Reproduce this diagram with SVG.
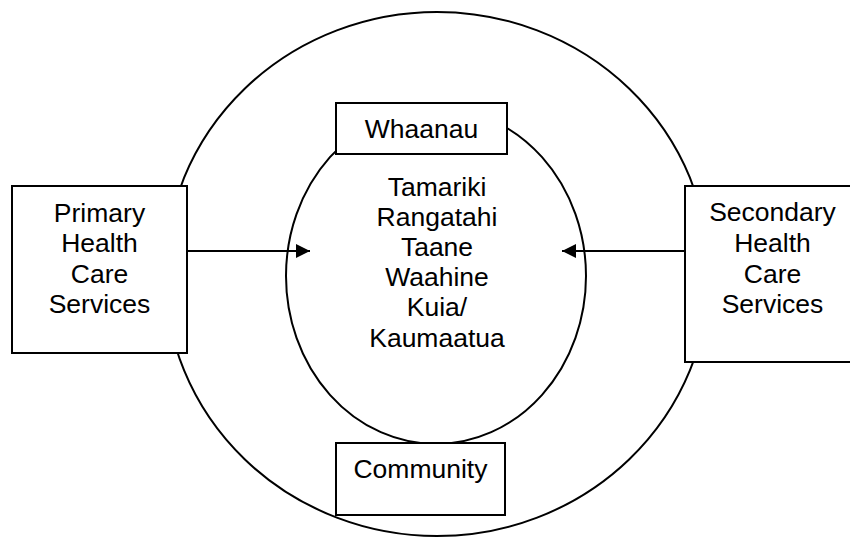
<svg xmlns="http://www.w3.org/2000/svg" width="850" height="537" viewBox="0 0 850 537">
<style>
.ln{fill:none;stroke:#000;stroke-width:2}
.box{fill:#fff;stroke:#000;stroke-width:2}
.t{font-family:"Liberation Sans",Arial,sans-serif;font-size:26.5px;fill:#000;text-anchor:middle}
</style>
<defs>
<marker id="ah" markerWidth="14" markerHeight="14" refX="14" refY="7" orient="auto" markerUnits="userSpaceOnUse">
<path d="M0,0 L14,7 L0,14 Z" fill="#000"/>
</marker>
</defs>
<rect width="850" height="537" fill="#fff"/>
<g id="outer"><ellipse class="ln" cx="437" cy="274" rx="272" ry="262"/></g>
<g id="inner"><ellipse class="ln" cx="436" cy="276" rx="150" ry="168"/>
<text class="t" x="437" y="196">Tamariki</text>
<text class="t" x="437" y="226">Rangatahi</text>
<text class="t" x="437" y="256">Taane</text>
<text class="t" x="437" y="286">Waahine</text>
<text class="t" x="437" y="316">Kuia/</text>
<text class="t" x="437" y="347">Kaumaatua</text>
</g>
<g id="connectors">
<line class="ln" x1="187" y1="251" x2="310" y2="251" marker-end="url(#ah)"/>
<line class="ln" x1="685" y1="251" x2="562" y2="251" marker-end="url(#ah)"/>
</g>
<g id="primary"><rect class="box" x="12" y="186" width="175" height="167"/>
<text class="t" x="99.5" y="222">Primary</text>
<text class="t" x="99.5" y="252">Health</text>
<text class="t" x="99.5" y="283">Care</text>
<text class="t" x="99.5" y="313">Services</text>
</g>
<g id="secondary"><rect class="box" x="685" y="186" width="175" height="176"/>
<text class="t" x="772.5" y="221">Secondary</text>
<text class="t" x="772.5" y="252">Health</text>
<text class="t" x="772.5" y="283">Care</text>
<text class="t" x="772.5" y="313">Services</text>
</g>
<g id="whaanau"><rect class="box" x="336" y="103" width="171" height="51"/>
<text class="t" x="421.5" y="138">Whaanau</text>
</g>
<g id="community"><rect class="box" x="336" y="443" width="169" height="72"/>
<text class="t" x="420.5" y="478">Community</text>
</g>
</svg>
